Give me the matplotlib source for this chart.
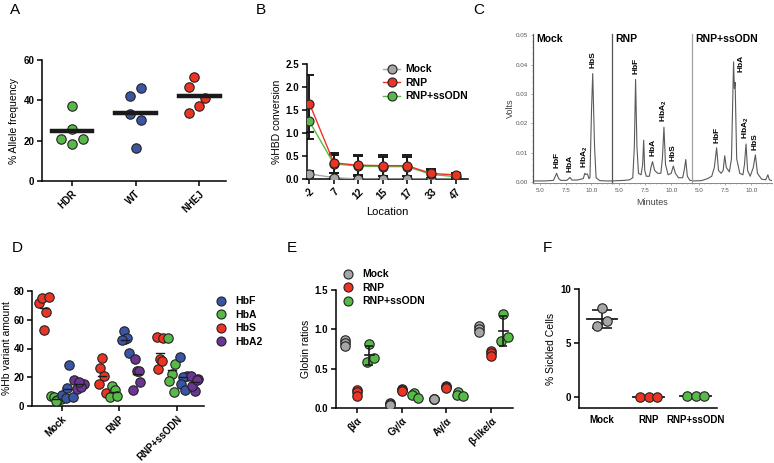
import numpy as np
import matplotlib
matplotlib.use("Agg")
import matplotlib.pyplot as plt
from matplotlib.lines import Line2D
from matplotlib.ticker import MultipleLocator

plt.rcParams['font.family'] = ['Liberation Sans', 'DejaVu Sans']
plt.rcParams['font.weight'] = 'bold'
plt.rcParams['axes.linewidth'] = 1.1
plt.rcParams['mathtext.default'] = 'regular'

GREEN = '#57b947'
BLUE = '#3b55a5'
RED = '#ec3425'
GRAY = '#a6a6a6'
PURPLE = '#6b3594'

# ---- A: allele frequency
A_GROUPS = ['HDR', 'WT', 'NHEJ']
A_VALUES = [[37.2, 25.7, 21.0, 20.9, 18.3],
            [42.1, 46.0, 33.4, 30.4, 16.4],
            [51.5, 46.5, 41.1, 37.0, 33.7]]

# ---- B: HBD conversion by location
B_LOC = ['-2', '7', '12', '15', '17', '33', '47']
B_MOCK = [0.11, 0.03, 0.0, 0.0, 0.0, 0.0, 0.0]
B_MOCK_SD = [0.07, 0.02, 0.0, 0.0, 0.0, 0.0, 0.0]
B_RNP = [1.64, 0.35, 0.30, 0.29, 0.29, 0.12, 0.09]
B_RNP_SD = [0.61, 0.22, 0.22, 0.23, 0.23, 0.10, 0.04]
B_SS = [1.25, 0.33, 0.28, 0.27, 0.27, 0.10, 0.05]
B_SS_SD = [0.38, 0.20, 0.21, 0.21, 0.21, 0.09, 0.04]

# ---- C: HPLC traces (minutes, volts)
C_MOCK_T = [4.3, 5.5, 6.3, 6.45, 6.6, 6.8, 7.0, 7.6, 7.75, 7.9, 8.1, 8.6, 9.2, 9.35, 9.45,
            9.6, 9.75, 9.85, 10.0, 10.12, 10.3, 10.45, 10.8, 11.5, 12.0]
C_MOCK_V = [0.0004, 0.0004, 0.0006, 0.0018, 0.0030, 0.0012, 0.0006, 0.0006, 0.0011, 0.0016,
            0.0007, 0.0007, 0.0012, 0.0030, 0.0026, 0.0028, 0.0012, 0.0015, 0.0240, 0.0370,
            0.0120, 0.0015, 0.0005, 0.0004, 0.0004]
C_RNP_T = [4.3, 5.5, 6.0, 6.3, 6.45, 6.57, 6.7, 6.85, 7.1, 7.25, 7.35, 7.45, 7.6, 7.9, 8.05,
           8.2, 8.4, 8.7, 9.0, 9.15, 9.3, 9.45, 9.7, 10.0, 10.2, 10.4, 10.7, 11.1, 11.25, 11.4,
           11.55, 11.8, 12.0]
C_RNP_V = [0.0004, 0.0006, 0.0008, 0.0015, 0.012, 0.035, 0.012, 0.003, 0.0025, 0.006, 0.0143,
           0.004, 0.002, 0.002, 0.005, 0.007, 0.004, 0.003, 0.003, 0.008, 0.0187, 0.006, 0.0025,
           0.003, 0.0055, 0.003, 0.0015, 0.0015, 0.004, 0.0077, 0.002, 0.0006, 0.0005]
C_SS_T = [4.3, 5.2, 5.8, 6.2, 6.45, 6.67, 6.85, 7.1, 7.3, 7.45, 7.6, 7.9, 8.1, 8.3, 8.38, 8.45,
          8.6, 8.9, 9.2, 9.35, 9.5, 9.65, 9.9, 10.2, 10.4, 10.6, 11.0, 11.4, 11.6, 11.75, 12.0]
C_SS_V = [0.0004, 0.0005, 0.0012, 0.002, 0.005, 0.0117, 0.004, 0.003, 0.004, 0.009, 0.005,
          0.0035, 0.008, 0.041, 0.032, 0.034, 0.008, 0.003, 0.0025, 0.006, 0.013, 0.004, 0.002,
          0.005, 0.0093, 0.003, 0.001, 0.0008, 0.0025, 0.0008, 0.0005]
C_TITLES = ['Mock', 'RNP', 'RNP+ssODN']
C_PEAKS = [[('HbF', 6.6, 0.0030), ('HbA', 7.9, 0.0016), ('HbA$_2$', 9.4, 0.0030), ('HbS', 10.12, 0.0370)],
           [('HbF', 6.57, 0.035), ('HbA', 8.2, 0.007), ('HbA$_2$', 9.3, 0.0187), ('HbS', 10.2, 0.0055)],
           [('HbF', 6.67, 0.0117), ('HbA$_2$', 9.5, 0.013), ('HbS', 10.4, 0.0093)]]

# ---- D: Hb variants
D_GROUPS = ['Mock', 'RNP', 'RNP+ssODN']
D_HBS = [[71.9, 75.1, 75.6, 65.3, 52.8], [26.7, 33.3, 20.9, 15.3, 8.8], [47.7, 47.4, 32.5, 26.0, 31.0]]
D_HBA = [[7.0, 6.0, 5.0, 4.0, 3.5], [14.2, 9.8, 10.9, 6.3, 7.0], [47.0, 29.5, 22.6, 17.4, 9.8]]
D_HBF = [[7.4, 5.6, 6.3, 28.8, 12.6], [52.3, 46.7, 47.4, 45.8, 36.7], [34.2, 21.2, 20.2, 15.6, 10.9]]
D_HBA2 = [[17.9, 12.1, 15.6, 13.0, 16.5], [32.6, 24.4, 24.4, 11.4, 17.0], [20.9, 18.6, 10.5, 14.2, 18.0]]

# ---- E: globin ratios
E_CATS = ['β/α', 'Gγ/α', 'Aγ/α', 'β-like/α']
E_MOCK = [[0.86, 0.82, 0.79], [0.06, 0.05, 0.04], [0.11, 0.11, 0.11], [1.04, 1.00, 0.97]]
E_RNP = [[0.23, 0.20, 0.15], [0.24, 0.23, 0.22], [0.28, 0.27, 0.25], [0.73, 0.70, 0.66]]
E_SS = [[0.81, 0.58, 0.63], [0.19, 0.16, 0.13], [0.20, 0.17, 0.15], [1.20, 0.85, 0.90]]

# ---- F: sickled cells
F_CATS = ['Mock', 'RNP', 'RNP+ssODN']
F_VALUES = [[8.2, 7.0, 6.6], [0.05, 0.05, 0.05], [0.12, 0.08, 0.08]]

# jitter offsets (layout only)
A_JIT = [[0, 0, -0.17, 0.18, 0], [-0.09, 0.08, -0.09, 0.08, 0], [-0.08, -0.16, 0.09, 0, -0.16]]
D_JIT = [[-0.09, -0.03, 0.09, 0.03, 0.0], [-0.03, 0.0, 0.03, -0.06, 0.06],
         [-0.06, 0.06, 0.0, -0.04, 0.04]]
E_JIT = [0.0, 0.0, 0.0]
E_JIT_SS = [0.0, -0.04, 0.1]
F_JIT = [[0.0, 0.1, -0.1], [-0.18, 0.0, 0.18], [-0.18, 0.0, 0.18]]

W, H = 774, 463
fig = plt.figure(figsize=(W / 100, H / 100), dpi=100)


def px_axes(l, t, r, b):
    return fig.add_axes([l / W, 1 - b / H, (r - l) / W, (b - t) / H])


def prism(ax):
    ax.spines['top'].set_visible(False)
    ax.spines['right'].set_visible(False)
    ax.tick_params(direction='out', length=3.5, width=1.1, labelsize=7, pad=2)


def letter(x, y, s):
    fig.text(x / W, 1 - y / H, s, fontsize=11, fontweight='normal', va='top', ha='left')


dot = dict(s=46, edgecolors='#222222', linewidths=0.8, zorder=3)

# ================= A
ax = px_axes(42, 60, 226, 181)
prism(ax)
colsA = [GREEN, BLUE, RED]
for i, vals in enumerate(A_VALUES):
    xs = [i + j for j in A_JIT[i]]
    ax.scatter(xs, vals, color=colsA[i], **dot)
    ax.plot([i - 0.32, i + 0.32], [np.mean(vals)] * 2, color='#1a1a1a', lw=3.2, zorder=4)
ax.set_xlim(-0.47, 2.42)
ax.set_ylim(0, 60)
ax.set_yticks([0, 20, 40, 60])
ax.set_xticks(range(3))
ax.set_xticklabels(A_GROUPS, rotation=45, ha='right', rotation_mode='anchor')
ax.set_ylabel('% Allele frequency', fontsize=7.5, fontweight='normal', labelpad=3)
letter(10, 3, 'A')

# ================= B
ax = px_axes(307, 64, 468, 179)
prism(ax)
xb = np.arange(len(B_LOC))
for y, sd in [(B_RNP, B_RNP_SD), (B_SS, B_SS_SD), (B_MOCK, B_MOCK_SD)]:
    ax.errorbar(xb, y, yerr=sd, fmt='none', ecolor='#1a1a1a', elinewidth=1.4, capsize=3.5,
                capthick=1.4, zorder=2)
mk = dict(marker='o', ms=6.5, mec='#222222', mew=0.8, lw=1.0, zorder=3)
ax.plot(xb, B_MOCK, color=GRAY, mfc=GRAY, **mk)
ax.plot(xb, B_SS, color=GREEN, mfc=GREEN, **mk)
ax.plot(xb, B_RNP, color=RED, mfc=RED, **mk)
ax.set_xlim(-0.1, 6.5)
ax.set_ylim(0, 2.5)
ax.set_yticks([0, 0.5, 1.0, 1.5, 2.0, 2.5])
ax.set_yticklabels(['0.0', '0.5', '1.0', '1.5', '2.0', '2.5'])
ax.set_xticks(xb)
ax.set_xticklabels(B_LOC, rotation=45, ha='right', rotation_mode='anchor')
ax.set_xlabel('Location', fontsize=8, labelpad=4)
ax.set_ylabel('%HBD conversion', fontsize=7.5, labelpad=3)
hB = [Line2D([], [], color=c, marker='o', mfc=c, ms=6.5, mec='#222222', mew=0.8, lw=1.0)
      for c in [GRAY, RED, GREEN]]
fig.legend(hB, ['Mock', 'RNP', 'RNP+ssODN'], loc='upper left', bbox_to_anchor=(379 / W, 1 - 60 / H),
           frameon=False, fontsize=7.5, handlelength=1.6, labelspacing=0.35, handletextpad=0.5,
           borderaxespad=0)
letter(256, 3, 'B')

# ================= C
traces = [(C_MOCK_T, C_MOCK_V), (C_RNP_T, C_RNP_V), (C_SS_T, C_SS_V)]
edges = [533, 612, 692, 772]
for k in range(3):
    ax = px_axes(edges[k], 34, edges[k + 1], 183)
    t, v = traces[k]
    ax.plot(t, v, color='#5a5a5a', lw=0.8)
    ax.set_xlim(4.3, 12.0)
    ax.set_ylim(-0.0003, 0.0505)
    ax.spines['top'].set_visible(False)
    ax.spines['right'].set_visible(False)
    ax.spines['bottom'].set_color('#888888')
    ax.spines['bottom'].set_linewidth(0.7)
    ax.spines['left'].set_color('#555555' if k < 2 else '#a0a0a0')
    ax.spines['left'].set_linewidth(0.9)
    ax.set_xticks([5.0, 7.5, 10.0])
    ax.set_xticklabels(['5.0', '7.5', '10.0'], fontsize=4.5, fontweight='normal', color='#555555')
    ax.tick_params(axis='x', length=1.5, width=0.5, color='#888888', pad=2)
    ax.xaxis.set_minor_locator(MultipleLocator(0.5))
    ax.tick_params(axis='x', which='minor', length=1, width=0.4, color='#888888')
    if k == 0:
        ax.set_yticks([0, 0.01, 0.02, 0.03, 0.04, 0.05])
        ax.set_yticklabels(['0.00', '0.01', '0.02', '0.03', '0.04', '0.05'], fontsize=4.5,
                           fontweight='normal', color='#555555')
        ax.tick_params(axis='y', length=1.5, width=0.5, color='#888888', pad=2)
        ax.yaxis.set_minor_locator(MultipleLocator(0.002))
        ax.tick_params(axis='y', which='minor', length=1, width=0.4, color='#888888')
        ax.set_ylabel('Volts', fontsize=6.5, fontweight='normal', color='#444444', labelpad=1)
    else:
        ax.set_yticks([])
    if k == 1:
        ax.set_xlabel('Minutes', fontsize=6.5, fontweight='normal', color='#444444', labelpad=4)
    ax.text(0.04, 1.0, C_TITLES[k], transform=ax.transAxes, fontsize=7.5, va='top', ha='left')
    for name, x0, h in C_PEAKS[k]:
        ax.text(x0, h + 0.0018, name, rotation=90, fontsize=6, ha='center', va='bottom')
    if k == 2:
        ax.text(9.0, 0.0405, 'HbA', rotation=90, fontsize=6, ha='center', va='center')
    ax.patch.set_alpha(0)
letter(473, 3, 'C')

# ================= D
ax = px_axes(32, 291, 204, 406)
prism(ax)
subs = [(D_HBS, RED, -0.3), (D_HBA, GREEN, -0.1), (D_HBF, BLUE, 0.1), (D_HBA2, PURPLE, 0.3)]
for data, c, off in subs:
    for g in range(3):
        xs = [g + off + j for j in D_JIT[g]]
        ax.scatter(xs, data[g], color=c, **dot)
        ax.plot([g + off - 0.07, g + off + 0.07], [np.mean(data[g])] * 2, color='#1a1a1a', lw=1.0, zorder=4)
ax.set_xlim(-0.51, 2.46)
ax.set_ylim(0, 80)
ax.set_yticks([0, 20, 40, 60, 80])
ax.set_xticks(range(3))
ax.set_xticklabels(D_GROUPS, rotation=45, ha='right', rotation_mode='anchor')
ax.set_ylabel('%Hb variant amount', fontsize=7.5, fontweight='normal', labelpad=1)
hD = [Line2D([], [], ls='none', marker='o', mfc=c, mec='#222222', mew=0.8, ms=6.5)
      for c in [BLUE, GREEN, RED, PURPLE]]
fig.legend(hD, ['HbF', 'HbA', 'HbS', 'HbA2'], loc='upper left', bbox_to_anchor=(212 / W, 1 - 292 / H),
           frameon=False, fontsize=7.5, handlelength=1.0, labelspacing=0.35, handletextpad=0.8,
           borderaxespad=0)
letter(12, 241, 'D')

# ================= E
ax = px_axes(336, 290, 513, 408)
prism(ax)
for i in range(4):
    ax.scatter([i - 0.27 + j for j in E_JIT], E_MOCK[i], color=GRAY, **dot)
    ax.scatter([i + j for j in E_JIT], E_RNP[i], color=RED, **dot)
    ax.scatter([i + 0.27 + j for j in E_JIT_SS], E_SS[i], color=GREEN, **dot)
for i in [0, 3]:
    m = np.mean(E_SS[i])
    sd = np.std(E_SS[i], ddof=1)
    ax.errorbar([i + 0.27], [m], yerr=[sd], fmt='none', ecolor='#1a1a1a', elinewidth=1.2,
                capsize=3, capthick=1.2, zorder=4)
    ax.plot([i + 0.17, i + 0.37], [m, m], color='#1a1a1a', lw=1.2, zorder=4)
ax.set_xlim(-0.47, 3.49)
ax.set_ylim(0, 1.5)
ax.set_yticks([0, 0.5, 1.0, 1.5])
ax.set_yticklabels(['0.0', '0.5', '1.0', '1.5'])
ax.set_xticks(range(4))
ax.set_xticklabels(E_CATS, rotation=45, ha='right', rotation_mode='anchor')
ax.set_ylabel('Globin ratios', fontsize=7.5, fontweight='normal', labelpad=3)
hE = [Line2D([], [], ls='none', marker='o', mfc=c, mec='#222222', mew=0.8, ms=6.5)
      for c in [GRAY, RED, GREEN]]
fig.legend(hE, ['Mock', 'RNP', 'RNP+ssODN'], loc='upper left', bbox_to_anchor=(339 / W, 1 - 265 / H),
           frameon=False, fontsize=7.5, handlelength=1.0, labelspacing=0.35, handletextpad=0.8,
           borderaxespad=0)
letter(287, 241, 'E')

# ================= F
ax = px_axes(579, 289, 717, 408)
prism(ax)
colsF = [GRAY, RED, GREEN]
for i, vals in enumerate(F_VALUES):
    m = np.mean(vals)
    ax.plot([i - 0.33, i + 0.33], [m, m], color='#1a1a1a', lw=1.3, zorder=2)
    if i == 0:
        ax.errorbar([i], [m], yerr=[np.std(vals, ddof=1)], fmt='none', ecolor='#1a1a1a',
                    elinewidth=1.2, capsize=7, capthick=1.2, zorder=2)
    ax.scatter([i + j for j in F_JIT[i]], vals, color=colsF[i], **dot)
ax.set_xlim(-0.49, 2.45)
ax.set_ylim(-1, 10)
ax.set_yticks([0, 5, 10])
ax.set_xticks(range(3))
ax.set_xticklabels(F_CATS)
ax.tick_params(axis='x', length=0, pad=5)
ax.set_ylabel('% Sickled Cells', fontsize=7.5, fontweight='normal', labelpad=3)
letter(543, 241, 'F')

fig.savefig('out.png', dpi=100)
